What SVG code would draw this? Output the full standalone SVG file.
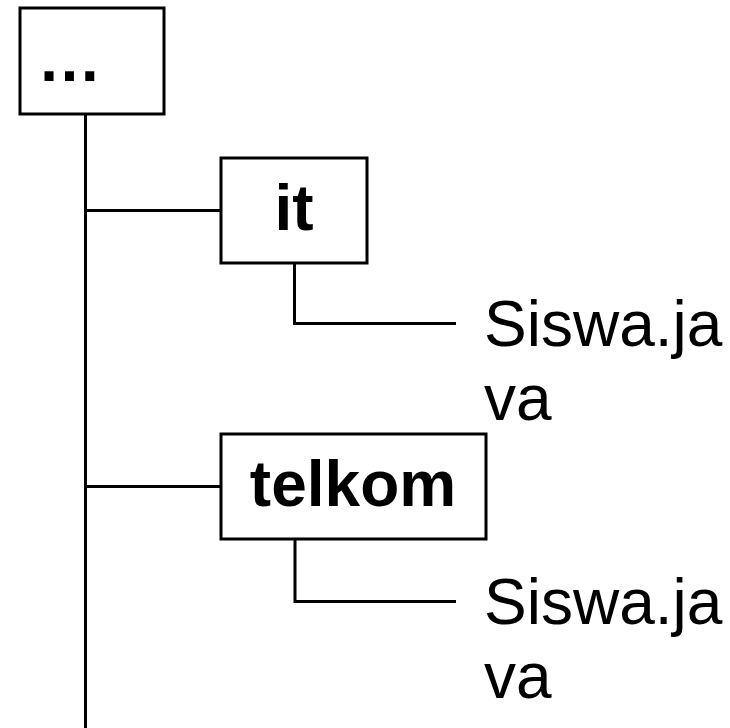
<svg xmlns="http://www.w3.org/2000/svg" width="730" height="728" viewBox="0 0 730 728">
  <style>
    .box { fill: #ffffff; stroke: #000000; stroke-width: 3; }
    .wire { fill: none; stroke: #000000; stroke-width: 3; }
    .dir { font-family: "Liberation Sans", Arial, sans-serif; font-weight: bold; font-size: 64px; fill: #000000; }
    .file { font-family: "Liberation Sans", Arial, sans-serif; font-size: 64px; fill: #000000; }
  </style>
  <rect width="730" height="728" fill="#ffffff"/>

  <!-- tree connectors -->
  <g id="connectors">
    <line class="wire" x1="85.5" y1="114" x2="85.5" y2="728"/>
    <line class="wire" x1="85.5" y1="210.5" x2="221" y2="210.5"/>
    <line class="wire" x1="85.5" y1="486.5" x2="221" y2="486.5"/>
    <polyline class="wire" points="294.5,263 294.5,323.5 456,323.5"/>
    <polyline class="wire" points="295,539 295,601.5 456,601.5"/>
  </g>

  <g id="root">
    <rect class="box" x="20" y="8" width="144" height="106"/>
    <text class="dir" x="37.5" y="81">…</text>
  </g>

  <g id="dir-it">
    <rect class="box" x="221" y="158" width="146" height="105"/>
    <text class="dir" x="294" y="230" text-anchor="middle">it</text>
  </g>

  <g id="file-it">
    <text class="file" x="484" y="346">Siswa.ja</text>
    <text class="file" x="484" y="420">va</text>
  </g>

  <g id="dir-telkom">
    <rect class="box" x="221" y="434" width="265" height="105"/>
    <text class="dir" x="353" y="506" text-anchor="middle">telkom</text>
  </g>

  <g id="file-telkom">
    <text class="file" x="484" y="624">Siswa.ja</text>
    <text class="file" x="484" y="698">va</text>
  </g>
</svg>
